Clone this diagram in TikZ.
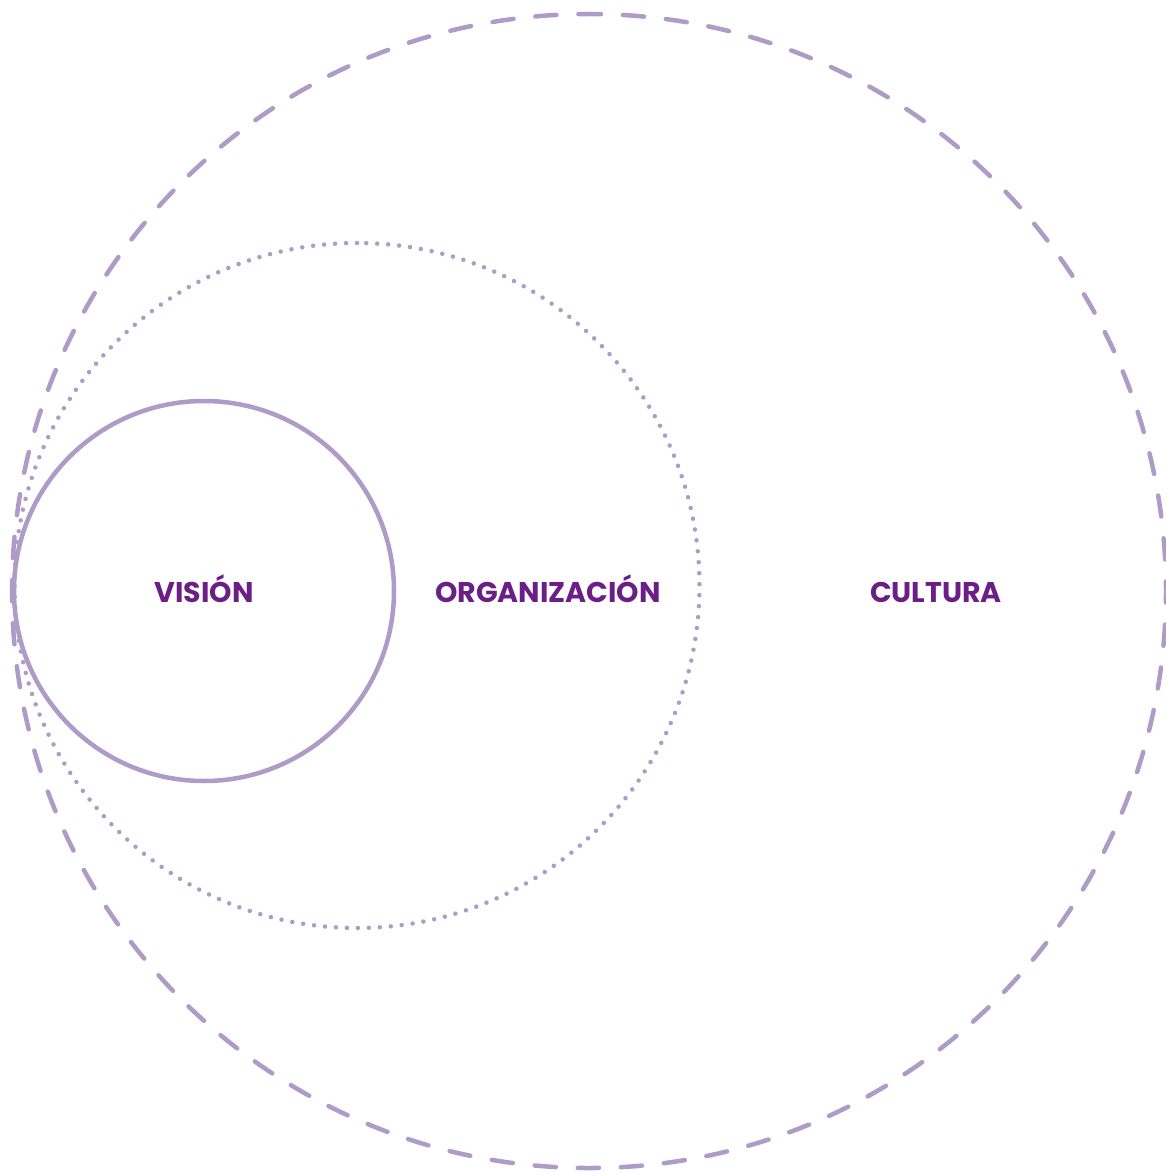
\documentclass[tikz,border=0pt]{standalone}
\usepackage{fontspec}
\usetikzlibrary{calc}
\newfontfamily\labfont{Poppins}
\definecolor{ring}{HTML}{AE9BC8}
\definecolor{labc}{HTML}{6B1F86}
\begin{document}
\begin{tikzpicture}[x=1pt,y=-1pt,
  ringline/.style={draw=ring,line width=4.5pt,line cap=round},
  lab/.style={text=labc,font=\labfont\bfseries\fontsize{28.5}{32}\selectfont,anchor=base,inner sep=0pt}]
\useasboundingbox (0,0) rectangle (1165,1174);
\coordinate (cO) at (589,591);
\coordinate (cM) at (357,585.5);
\coordinate (cV) at (204,591);
% outer dashed circle, start at top
\draw[ringline,dash pattern=on 21.15pt off 22pt,dash phase=10.6pt]
  ($(cO)+(0,-577)$) arc[start angle=-90,end angle=-450,radius=577];
% dotted circle
\draw[ringline,dash pattern=on 0pt off 10.99pt]
  ($(cM)+(0,-342.5)$) arc[start angle=-90,end angle=-450,radius=342.5];
% solid circle
\draw[ringline] (cV) circle[radius=190];
\node[lab] (v) at (204,602) {VISIÓN};
\node[lab] (o) at (548,602) {ORGANIZACIÓN};
\node[lab] (c) at (936,602) {CULTURA};
\end{tikzpicture}
\end{document}
